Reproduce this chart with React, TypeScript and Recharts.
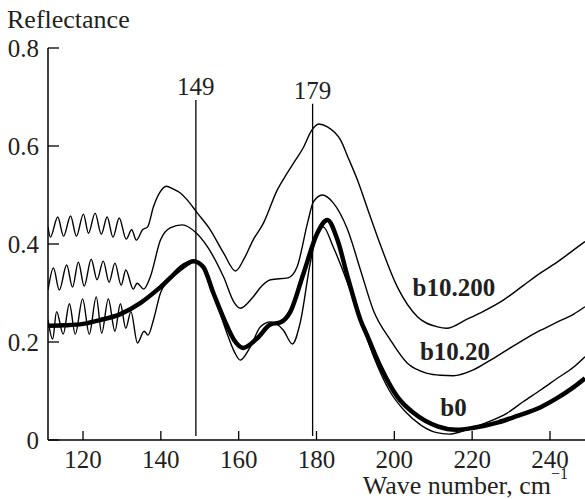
import { LineChart, Line, XAxis, YAxis, ReferenceLine, ReferenceDot } from "recharts";

const waveTicks = [120, 140, 160, 180, 200, 220, 240];
const reflTicks = [0, 0.2, 0.4, 0.6, 0.8];

// b10.200 (top)
const b200Wave = [
  111, 111.6, 113.5, 115.0, 116.8, 118.3, 120.1, 121.4, 123.1, 124.7, 126.2, 127.7, 129.3, 131.1, 132.5, 133.7,
  135.3, 136.6, 138.1, 139.7, 141.4, 143.2, 145.0, 147.3, 149.4, 152.7, 156.1, 159.2, 161.4, 163.7, 166.4, 169.9,
  172.5, 174.5, 176.7, 178.6, 180.6, 182.8, 186.2, 188.2, 190.5, 193.2, 195.7, 200.8, 206.0, 211.1, 213.4, 218.8,
  223.0, 228.1, 233.1, 237.6, 242.2, 246.1, 249,
];
const b200Refl = [
  0.435, 0.414, 0.455, 0.416, 0.457, 0.416, 0.461, 0.422, 0.463, 0.42, 0.455, 0.414, 0.453, 0.41, 0.429, 0.408,
  0.429, 0.435, 0.476, 0.505, 0.518, 0.512, 0.504, 0.485, 0.463, 0.429, 0.382, 0.345, 0.37, 0.408, 0.443, 0.51,
  0.545, 0.57, 0.598, 0.63, 0.645, 0.639, 0.612, 0.575, 0.531, 0.47, 0.414, 0.312, 0.251, 0.231, 0.228, 0.247,
  0.263, 0.286, 0.315, 0.341, 0.365, 0.388, 0.405,
];

// b10.20 (middle)
const b20Wave = [
  111, 112.4, 113.9, 115.8, 117.3, 118.8, 120.3, 122.1, 123.6, 125.2, 126.7, 128.2, 129.8, 131.0, 132.9, 133.9,
  135.6, 137.3, 139.9, 142.4, 145.5, 148.9, 152.0, 156.1, 158.9, 160.4, 163.7, 166.0, 168.2, 172.7, 175.0, 177.7,
  179.2, 181.5, 184.3, 188.0, 191.3, 194.6, 199.0, 203.3, 208.5, 211.9, 215.1, 220.3, 224.5, 229.0, 233.1, 237.6,
  241.7, 246.1, 249,
];
const b20Refl = [
  0.306, 0.351, 0.306, 0.357, 0.312, 0.363, 0.314, 0.369, 0.327, 0.365, 0.322, 0.361, 0.316, 0.347, 0.308, 0.32,
  0.308, 0.333, 0.408, 0.433, 0.439, 0.424, 0.394, 0.333, 0.28, 0.269, 0.292, 0.315, 0.327, 0.331, 0.353, 0.443,
  0.486, 0.5, 0.484, 0.429, 0.347, 0.265, 0.204, 0.157, 0.136, 0.132, 0.131, 0.143, 0.162, 0.184, 0.204, 0.224,
  0.24, 0.257, 0.272,
];

// b0 (measured, thin)
const b0Wave = [
  111, 112.2, 113.2, 114.9, 116.5, 118.0, 119.9, 121.6, 123.4, 124.8, 126.5, 128.2, 129.6, 131.0, 132.3, 134.0,
  135.7, 136.7, 138.1, 139.9, 141.7, 145.0, 148.3, 150.9, 153.5, 156.9, 158.9, 160.4, 163.0, 165.6, 168.2, 171.5,
  173.8, 175.8, 178.4, 180.5, 181.7, 184.3, 188.0, 191.3, 194.7, 198.8, 202.8, 206.9, 210.9, 214.0, 219.0, 223.5,
  229.0, 233.1, 237.6, 241.7, 246.1, 249,
];
const b0Refl = [
  0.245, 0.206, 0.262, 0.216, 0.278, 0.216, 0.288, 0.216, 0.292, 0.218, 0.288, 0.222, 0.278, 0.228, 0.262, 0.198,
  0.222, 0.214, 0.245, 0.3, 0.325, 0.355, 0.366, 0.352, 0.3, 0.22, 0.18, 0.163, 0.19, 0.231, 0.241, 0.224,
  0.196, 0.239, 0.361, 0.429, 0.435, 0.394, 0.32, 0.245, 0.17, 0.1, 0.058, 0.03, 0.015, 0.012, 0.022, 0.035,
  0.055, 0.078, 0.102, 0.125, 0.149, 0.17,
];

// b0 fit (thick)
const fitWave = [
  111, 115, 120, 124.5, 129.6, 134.8, 139.9, 145.0, 148.4, 150.9, 153.5, 157.1, 158.9, 161.2, 164.7, 168.2, 170.7,
  173.3, 176.7, 180.2, 182.8, 185.4, 188.0, 191.3, 193.2, 196.5, 200.8, 205.0, 211.1, 216.0, 220.4, 226.7, 231.2,
  237.6, 241.7, 246.1, 249,
];
const fitRefl = [
  0.233, 0.234, 0.237, 0.245, 0.257, 0.28, 0.312, 0.349, 0.365, 0.353, 0.3, 0.231, 0.203, 0.188, 0.207, 0.236, 0.24,
  0.262, 0.341, 0.422, 0.449, 0.408, 0.333, 0.245, 0.21, 0.149, 0.088, 0.055, 0.028, 0.021, 0.025, 0.036, 0.048,
  0.067, 0.085, 0.108, 0.126,
];

const peakLines = [149, 179];
const peakTops = [0.694, 0.686];
const curveNames = ["b10.200", "b10.20", "b0"];
const nameWave = [215.3, 215.6, 215.2];
const nameRefl = [0.312, 0.181, 0.067];

const zip = (w: number[], r: number[]) => w.map((x, i) => ({ x, y: r[i] }));

const ink = "#231f20";
const serif = "'Liberation Serif', 'Times New Roman', serif";

export default function App() {
  return (
    <div style={{ position: "absolute", left: 0, top: 0, width: 585, height: 499, background: "#fff" }}>
      <LineChart width={585} height={499} margin={{ top: 48, right: 0, bottom: 0, left: 0 }}>
        <XAxis
          type="number"
          dataKey="x"
          domain={[111, 249]}
          ticks={waveTicks}
          allowDataOverflow
          height={59}
          tickSize={-9}
          tickMargin={19}
          axisLine={{ stroke: "#000", strokeWidth: 1.5 }}
          tickLine={{ stroke: "#000", strokeWidth: 1.3 }}
          tick={{ fill: ink, fontSize: 25, fontFamily: serif }}
          label={{
            content: (props: any) => {
              const vb = props.viewBox;
              return (
                <text x={vb.x + vb.width - 17} y={vb.y + 54} textAnchor="end" fill={ink} fontSize={26} fontFamily={serif}>
                  Wave number, cm
                  <tspan dy={-15} fontSize={16}>−1</tspan>
                </text>
              );
            },
          }}
        />
        <YAxis
          type="number"
          dataKey="y"
          domain={[0, 0.8]}
          ticks={reflTicks}
          width={48}
          tickSize={-11}
          tickMargin={20}
          axisLine={{ stroke: "#000", strokeWidth: 1.5 }}
          tickLine={{ stroke: "#000", strokeWidth: 1.3 }}
          tick={{ fill: ink, fontSize: 25, fontFamily: serif }}
          label={{
            content: (props: any) => {
              const vb = props.viewBox;
              return (
                <text x={vb.x + 7} y={vb.y - 20} fill={ink} fontSize={26} fontFamily={serif}>
                  Reflectance
                </text>
              );
            },
          }}
        />
        {peakLines.map((p, i) => (
          <ReferenceLine
            key={p}
            segment={[
              { x: p, y: 0.008 },
              { x: p, y: peakTops[i] },
            ]}
            stroke="#000"
            strokeWidth={1.3}
            label={{ value: String(p), position: "top", offset: 5, fill: ink, fontSize: 25, fontFamily: serif }}
          />
        ))}
        <Line data={zip(b200Wave, b200Refl)} dataKey="y" type="monotone" stroke="#000" strokeWidth={1.4} dot={false} isAnimationActive={false} />
        <Line data={zip(b20Wave, b20Refl)} dataKey="y" type="monotone" stroke="#000" strokeWidth={1.4} dot={false} isAnimationActive={false} />
        <Line data={zip(b0Wave, b0Refl)} dataKey="y" type="monotone" stroke="#000" strokeWidth={1.4} dot={false} isAnimationActive={false} />
        <Line data={zip(fitWave, fitRefl)} dataKey="y" type="monotone" stroke="#000" strokeWidth={4.5} dot={false} isAnimationActive={false} />
        {curveNames.map((n, i) => (
          <ReferenceDot
            key={n}
            x={nameWave[i]}
            y={nameRefl[i]}
            r={1}
            fill="none"
            stroke="none"
            label={{ value: n, position: "center", fill: ink, fontSize: 25, fontWeight: "bold", fontFamily: serif }}
          />
        ))}
      </LineChart>
    </div>
  );
}
